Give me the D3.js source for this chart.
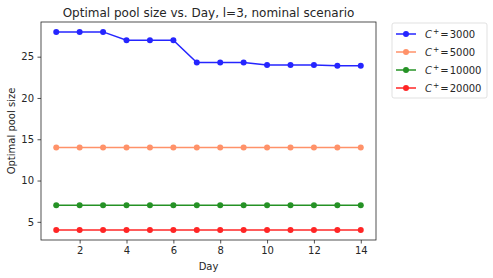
<!DOCTYPE html>
<html>
<head>
<meta charset="utf-8">
<script src="https://cdn.jsdelivr.net/npm/d3@7"></script>
<style>
body { margin: 0; background: #fff; }
text { font-family: "DejaVu Sans", sans-serif; fill: #262626; }
</style>
</head>
<body>
<div id="chart"></div>
<script>
let days = [1, 2, 3, 4, 5, 6, 7, 8, 9, 10, 11, 12, 13, 14];
let c3000 = [28, 28, 28, 27, 27, 27, 24.3, 24.3, 24.3, 24, 24, 24, 23.9, 23.9];
let c5000 = [14, 14, 14, 14, 14, 14, 14, 14, 14, 14, 14, 14, 14, 14];
let c10000 = [7, 7, 7, 7, 7, 7, 7, 7, 7, 7, 7, 7, 7, 7];
let c20000 = [4, 4, 4, 4, 4, 4, 4, 4, 4, 4, 4, 4, 4, 4];
let labels = ["3000", "5000", "10000", "20000"];
let colors = ["#0000ff", "#ff7f50", "#008000", "#ff0000"];
let xTicks = [2, 4, 6, 8, 10, 12, 14];
let yTicks = [5, 10, 15, 20, 25];

let series = [c3000, c5000, c10000, c20000];

let margin = { top: 22, right: 117, bottom: 38, left: 41 };
let W = 493, H = 278;
let w = W - margin.left - margin.right;
let h = H - margin.top - margin.bottom;

let svg = d3.select("#chart").append("svg")
    .attr("width", W).attr("height", H);

let g = svg.append("g")
    .attr("transform", "translate(" + margin.left + "," + margin.top + ")");

let x = d3.scaleLinear().domain([0.35, 14.65]).range([0, w]);
let y = d3.scaleLinear().domain([2.8, 29.2]).range([h, 0]);

let xAxis = g.append("g").attr("transform", "translate(0," + h + ")")
    .call(d3.axisBottom(x).tickValues(xTicks).tickSize(3.5).tickPadding(3.5));
let yAxis = g.append("g")
    .call(d3.axisLeft(y).tickValues(yTicks).tickSize(3.5).tickPadding(3.5));
[xAxis, yAxis].forEach(a => {
    a.select(".domain").remove();
    a.selectAll("text").style("font-size", "10px").style("font-family", "DejaVu Sans, sans-serif").attr("fill", "#262626");
    a.selectAll("line").attr("stroke", "#262626").attr("stroke-width", 0.8);
});

g.append("rect").attr("width", w).attr("height", h)
    .attr("fill", "none").attr("stroke", "#262626").attr("stroke-width", 0.8);

let line = d3.line().x((d, i) => x(days[i])).y(d => y(d));

series.forEach((s, k) => {
    let sg = g.append("g").attr("opacity", 0.85);
    sg.append("path").datum(s).attr("d", line)
        .attr("fill", "none").attr("stroke", colors[k]).attr("stroke-width", 1.5);
    sg.selectAll("circle").data(s).enter().append("circle")
        .attr("cx", (d, i) => x(days[i])).attr("cy", d => y(d))
        .attr("r", 3).attr("fill", colors[k]);
});

svg.append("text").attr("x", margin.left + w / 2).attr("y", 17)
    .attr("text-anchor", "middle").style("font-size", "12px")
    .text("Optimal pool size vs. Day, l=3, nominal scenario");

svg.append("text").attr("x", margin.left + w / 2).attr("y", 270)
    .attr("text-anchor", "middle").style("font-size", "10px").text("Day");

svg.append("text").attr("transform", "translate(15," + (margin.top + h / 2) + ") rotate(-90)")
    .attr("text-anchor", "middle").style("font-size", "10px").text("Optimal pool size");

// legend
let lg = svg.append("g").attr("transform", "translate(392,23)");
lg.append("rect").attr("width", 95).attr("height", 75).attr("rx", 2)
    .attr("fill", "#fff").attr("stroke", "#d9d9d9").attr("stroke-width", 0.8);
labels.forEach((lab, k) => {
    let yy = 11 + k * 18;
    let it = lg.append("g").attr("opacity", 0.85);
    it.append("line").attr("x1", 4).attr("x2", 24).attr("y1", yy).attr("y2", yy)
        .attr("stroke", colors[k]).attr("stroke-width", 1.5);
    it.append("circle").attr("cx", 14).attr("cy", yy).attr("r", 3).attr("fill", colors[k]);
    let t = lg.append("text").attr("x", 33).attr("y", yy + 3.5).style("font-size", "10px");
    t.append("tspan").style("font-style", "italic").text("C");
    t.append("tspan").attr("dy", -4).attr("dx", 1).style("font-size", "7.5px").text("+");
    t.append("tspan").attr("dy", 4).attr("dx", 1).text("=");
    t.append("tspan").attr("dx", 1).text(lab);
});
</script>
</body>
</html>
